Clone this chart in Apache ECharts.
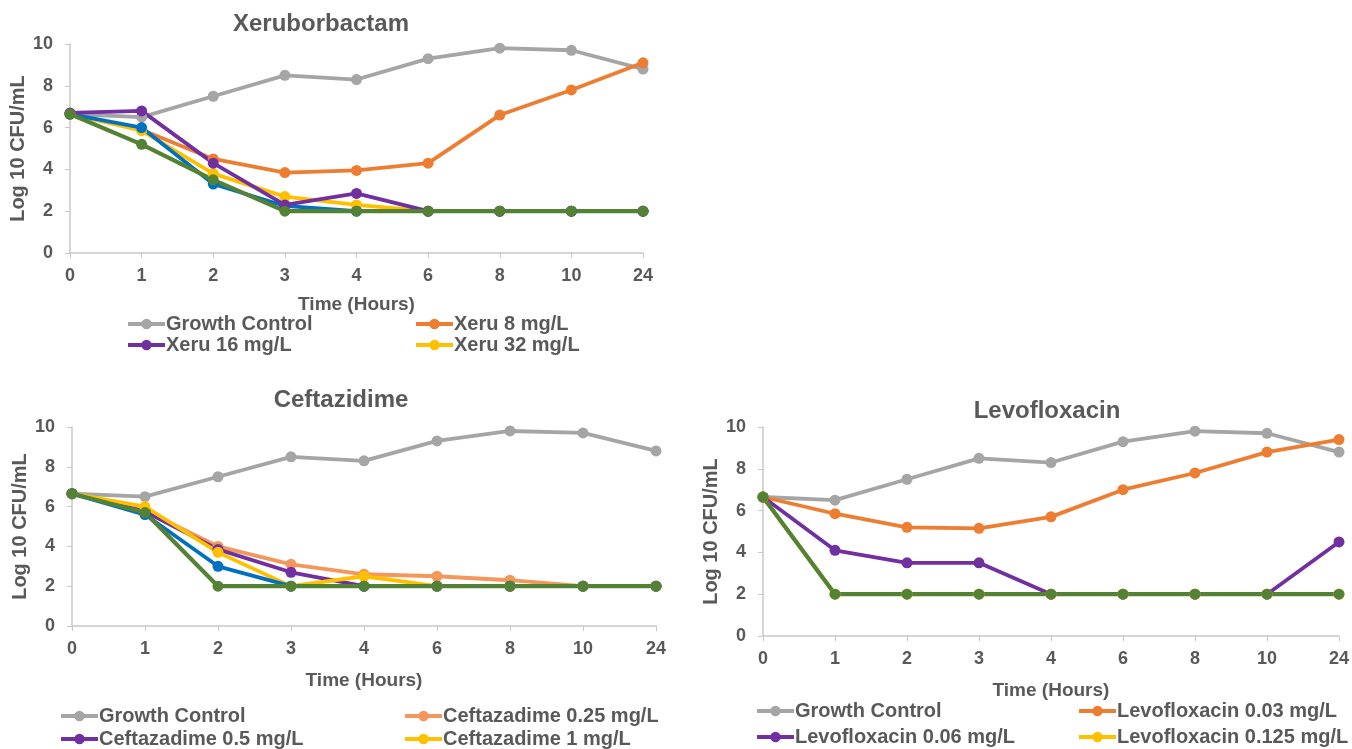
<!DOCTYPE html>
<html>
<head>
<meta charset="utf-8">
<script src="https://cdn.jsdelivr.net/npm/echarts@6/dist/echarts.min.js"></script>
<style>
  html, body { margin: 0; padding: 0; background: #fff; }
  #chart { width: 1352px; height: 749px; }
</style>
</head>
<body>
<div id="chart"></div>
<script>
// time points (category labels)
var HOURS = ['0', '1', '2', '3', '4', '6', '8', '10', '24'];
var Y_TICKS = [0, 2, 4, 6, 8, 10];

// panel 1 - Xeruborbactam
var xeruGrowth = [6.65, 6.5, 7.5, 8.5, 8.3, 9.3, 9.8, 9.7, 8.8];
var xeru8 = [6.65, 5.9, 4.5, 3.85, 3.95, 4.3, 6.6, 7.8, 9.1];
var xeru16 = [6.7, 6.8, 4.3, 2.3, 2.85, 2.0, 2.0, 2.0, 2.0];
var xeru32 = [6.65, 5.85, 3.8, 2.7, 2.3, 2.0, 2.0, 2.0, 2.0];
var xeru64 = [6.65, 6.0, 3.3, 2.25, 2.0, 2.0, 2.0, 2.0, 2.0];
var xeru128 = [6.65, 5.2, 3.5, 2.0, 2.0, 2.0, 2.0, 2.0, 2.0];

// panel 2 - Ceftazidime
var cazGrowth = [6.65, 6.5, 7.5, 8.5, 8.3, 9.3, 9.8, 9.7, 8.8];
var caz025 = [6.65, 5.8, 4.0, 3.1, 2.6, 2.5, 2.3, 2.0, 2.0];
var caz05 = [6.65, 5.75, 3.85, 2.7, 2.0, 2.0, 2.0, 2.0, 2.0];
var caz1 = [6.65, 6.0, 3.7, 2.0, 2.5, 2.0, 2.0, 2.0, 2.0];
var caz2 = [6.65, 5.6, 3.0, 2.0, 2.0, 2.0, 2.0, 2.0, 2.0];
var caz4 = [6.65, 5.7, 2.0, 2.0, 2.0, 2.0, 2.0, 2.0, 2.0];

// panel 3 - Levofloxacin
var levoGrowth = [6.65, 6.5, 7.5, 8.5, 8.3, 9.3, 9.8, 9.7, 8.8];
var levo003 = [6.65, 5.85, 5.2, 5.15, 5.7, 7.0, 7.8, 8.8, 9.4];
var levo006 = [6.65, 4.1, 3.5, 3.5, 2.0, 2.0, 2.0, 2.0, 4.5];
var levo0125 = [6.65, 2.0, 2.0, 2.0, 2.0, 2.0, 2.0, 2.0, 2.0];
var levo025 = [6.65, 2.0, 2.0, 2.0, 2.0, 2.0, 2.0, 2.0, 2.0];

var GRAY = '#A5A5A5', ORANGE = '#ED7D31', LORANGE = '#F4975B', PURPLE = '#7030A0',
    YELLOW = '#FFC000', BLUE = '#0070C0', GREEN = '#548235';
var TXT = '#595959';
var FONT = '"Liberation Sans", Arial, sans-serif';

var chart = echarts.init(document.getElementById('chart'));

function line(name, data, color, idx, w) {
    return {
        name: name,
        type: 'line',
        data: data,
        xAxisIndex: idx,
        yAxisIndex: idx,
        symbol: 'circle',
        symbolSize: 11,
        showSymbol: true,
        animation: false,
        itemStyle: { color: color },
        lineStyle: { color: color, width: w || 3.8 }
    };
}

function xAx(idx, gap) {
    return {
        type: 'category',
        gridIndex: idx,
        data: HOURS,
        boundaryGap: false,
        name: 'Time (Hours)',
        nameLocation: 'middle',
        nameGap: gap,
        nameTextStyle: { color: TXT, fontSize: 19, fontWeight: 'bold', fontFamily: FONT },
        axisLine: { lineStyle: { color: '#C8C8C8', width: 1.5 } },
        axisTick: { show: true, length: 5, lineStyle: { color: '#C8C8C8' } },
        axisLabel: { color: TXT, fontSize: 18, fontWeight: 'bold', fontFamily: FONT, margin: 14 },
        splitLine: { show: false }
    };
}

function yAx(idx, gap) {
    return {
        type: 'value',
        gridIndex: idx,
        min: 0,
        max: 10,
        interval: 2,
        name: 'Log 10 CFU/mL',
        nameLocation: 'middle',
        nameGap: gap,
        nameTextStyle: { color: TXT, fontSize: 20, fontWeight: 'bold', fontFamily: FONT },
        axisLine: { show: true, lineStyle: { color: '#C8C8C8', width: 1.5 } },
        axisTick: { show: true, length: 5, lineStyle: { color: '#C8C8C8' } },
        axisLabel: { color: TXT, fontSize: 18, fontWeight: 'bold', fontFamily: FONT, margin: 17 },
        splitLine: { show: false }
    };
}

function leg(name, left, top) {
    return {
        data: [name],
        left: left,
        top: top,
        padding: 0,
        itemWidth: 37,
        itemHeight: 13,
        itemGap: 0,
        lineStyle: { width: 4 },
        textStyle: { color: TXT, fontSize: 20, fontWeight: 'bold', fontFamily: FONT, padding: [0, 0, 0, -4] }
    };
}

var titleStyle = { color: TXT, fontSize: 24, fontWeight: 'bold', fontFamily: FONT };

chart.setOption({
    backgroundColor: '#fff',
    title: [
        { text: 'Xeruborbactam', left: 316, top: 7, textAlign: 'center', textStyle: titleStyle },
        { text: 'Ceftazidime', left: 336, top: 383, textAlign: 'center', textStyle: titleStyle },
        { text: 'Levofloxacin', left: 1042, top: 394, textAlign: 'center', textStyle: titleStyle }
    ],
    legend: [
        leg('Growth Control', 126, 314),
        leg('Xeru 8 mg/L', 414, 314),
        leg('Xeru 16 mg/L', 126, 335),
        leg('Xeru 32 mg/L', 414, 335),
        leg('Growth Control ', 59, 706),
        leg('Ceftazadime 0.25 mg/L', 403, 706),
        leg('Ceftazadime 0.5 mg/L', 59, 729),
        leg('Ceftazadime 1 mg/L', 403, 729),
        leg('Growth Control  ', 755, 701),
        leg('Levofloxacin 0.03 mg/L', 1077, 701),
        leg('Levofloxacin 0.06 mg/L', 755, 727),
        leg('Levofloxacin 0.125 mg/L', 1077, 727)
    ],
    grid: [
        { left: 70, top: 44, width: 573, height: 209 },
        { left: 72, top: 427, width: 584, height: 199 },
        { left: 763, top: 427, width: 577, height: 209 }
    ],
    xAxis: [xAx(0, 42), xAx(1, 45), xAx(2, 45)],
    yAxis: [yAx(0, 42), yAx(1, 42), yAx(2, 42)],
    series: [
        line('Growth Control', xeruGrowth, GRAY, 0),
        line('Xeru 8 mg/L', xeru8, ORANGE, 0),
        line('Xeru 32 mg/L', xeru32, YELLOW, 0),
        line('Xeru 64 mg/L', xeru64, BLUE, 0),
        line('Xeru 16 mg/L', xeru16, PURPLE, 0),
        line('Xeru 128 mg/L', xeru128, GREEN, 0, 4.2),

        line('Growth Control ', cazGrowth, GRAY, 1),
        line('Ceftazadime 0.25 mg/L', caz025, LORANGE, 1),
        line('Ceftazadime 0.5 mg/L', caz05, PURPLE, 1),
        line('Ceftazadime 1 mg/L', caz1, YELLOW, 1),
        line('Ceftazadime 2 mg/L', caz2, BLUE, 1),
        line('Ceftazadime 4 mg/L', caz4, GREEN, 1, 4.2),

        line('Growth Control  ', levoGrowth, GRAY, 2),
        line('Levofloxacin 0.03 mg/L', levo003, ORANGE, 2),
        line('Levofloxacin 0.06 mg/L', levo006, PURPLE, 2),
        line('Levofloxacin 0.125 mg/L', levo0125, YELLOW, 2),
        line('Levofloxacin 0.25 mg/L', levo025, GREEN, 2, 4.2)
    ]
});
</script>
</body>
</html>
